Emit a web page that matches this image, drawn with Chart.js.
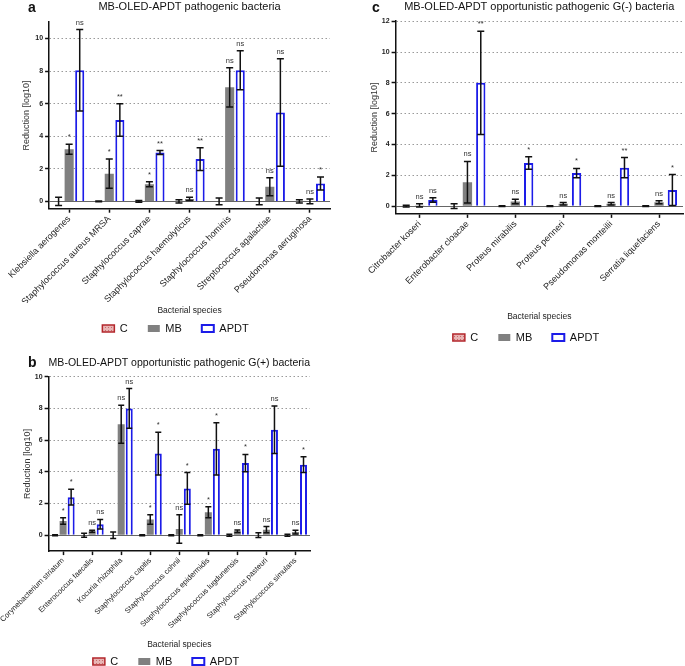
<!DOCTYPE html>
<html>
<head>
<meta charset="utf-8">
<script src="https://cdn.jsdelivr.net/npm/chart.js@4.4.1/dist/chart.umd.min.js"></script>
<style>
html, body { margin: 0; padding: 0; background: #fff; }
body { width: 685px; height: 666px; position: relative; overflow: hidden; }
.panel { position: absolute; }
</style>
</head>
<body>
<div class="panel" style="left:0;top:0;width:342px;height:344px"><canvas id="chartA"></canvas></div>
<div class="panel" style="left:343px;top:0;width:342px;height:353px"><canvas id="chartC"></canvas></div>
<div class="panel" style="left:0;top:354px;width:342px;height:323px"><canvas id="chartB"></canvas></div>
<script>
// panel a - pathogenic bacteria
var aLabels = ['Klebsiella aerogenes', 'Staphylococcus aureus MRSA', 'Staphylococcus caprae', 'Staphylococcus haemolyticus', 'Staphylococcus hominis', 'Streptococcus agalactiae', 'Pseudomonas aeruginosa'];
var aC = [0, 0, 0, 0, 0, 0, 0];
var aCErr = [0.25, 0.03, 0.05, 0.1, 0.2, 0.2, 0.1];
var aMB = [3.2, 1.7, 1.05, 0.15, 7.0, 0.9, 0.0];
var aMBErr = [0.3, 0.9, 0.15, 0.1, 1.2, 0.55, 0.15];
var aAPDT = [8.05, 5.0, 3.0, 2.6, 8.05, 5.45, 1.1];
var aAPDTErr = [2.5, 1.0, 0.12, 0.7, 1.2, 3.3, 0.4];
var aMBSig = ['*', '*', '*', 'ns', 'ns', 'ns', 'ns'];
var aAPDTSig = ['ns', '**', '**', '**', 'ns', 'ns', '*'];
var aYTicks = [0, 2, 4, 6, 8, 10];

// panel b - opportunistic G(+)
var bLabels = ['Corynebacterium striatum', 'Enterococcus faecalis', 'Kocuria rhizophila', 'Staphylococcus capitis', 'Staphylococcus cohnii', 'Staphylococcus epidermidis', 'Staphylococcus lugdunensis', 'Staphylococcus pasteuri', 'Staphylococcus simulans'];
var bC = [0, 0, 0, 0, 0, 0, 0, 0, 0];
var bCErr = [0.03, 0.12, 0.2, 0.03, 0.03, 0.03, 0.06, 0.15, 0.06];
var bMB = [0.9, 0.25, 7.0, 1.0, 0.4, 1.45, 0.25, 0.35, 0.2];
var bMBErr = [0.2, 0.06, 1.2, 0.3, 0.9, 0.35, 0.08, 0.2, 0.12];
var bAPDT = [2.4, 0.7, 8.0, 5.15, 2.95, 5.45, 4.55, 6.65, 4.45];
var bAPDTErr = [0.5, 0.3, 1.25, 1.35, 1.0, 1.65, 0.55, 1.5, 0.5];
var bMBSig = ['*', 'ns', 'ns', '*', 'ns', '*', 'ns', 'ns', 'ns'];
var bAPDTSig = ['*', 'ns', 'ns', '*', '*', '*', '*', 'ns', '*'];
var bYTicks = [0, 2, 4, 6, 8, 10];

// panel c - opportunistic G(-)
var cLabels = ['Citrobacter koseri', 'Enterobacter cloacae', 'Proteus mirabilis', 'Proteus penneri', 'Pseudomonas monteilii', 'Serratia liquefaciens'];
var cC = [0, 0, 0, 0, 0, 0];
var cCErr = [0.06, 0.15, 0.03, 0.03, 0.02, 0.02];
var cMB = [0.05, 1.55, 0.3, 0.15, 0.15, 0.25];
var cMBErr = [0.1, 1.35, 0.15, 0.08, 0.08, 0.1];
var cAPDT = [0.4, 8.0, 2.8, 2.15, 2.5, 1.05];
var cAPDTErr = [0.15, 3.35, 0.4, 0.3, 0.65, 1.0];
var cMBSig = ['ns', 'ns', 'ns', 'ns', 'ns', 'ns'];
var cAPDTSig = ['ns', '**', '*', '*', '**', '*'];
var cYTicks = [0, 2, 4, 6, 8, 10, 12];

var FONT = "'Liberation Sans', Arial, sans-serif";
var RED = '#b3262b';
var GRAY = '#808080';
var BLUE = '#1c1ce8';

function makePattern() {
    var c = document.createElement('canvas');
    c.width = 3; c.height = 3;
    var g = c.getContext('2d');
    g.fillStyle = '#e8b4b4';
    g.fillRect(0, 0, 3, 3);
    g.fillStyle = '#c86a6a';
    g.fillRect(0, 0, 1, 1);
    return g.createPattern(c, 'repeat');
}
var cPattern = makePattern();

// error bars, significance marks and the panel letter
var errorBarPlugin = {
    id: 'errorBars',
    afterDatasetsDraw: function (chart, args, opts) {
        var ctx = chart.ctx;
        var yScale = chart.scales.y;
        chart.data.datasets.forEach(function (ds, i) {
            var meta = chart.getDatasetMeta(i);
            meta.data.forEach(function (bar, j) {
                var v = ds.data[j], e = ds.errors[j];
                var yTop = yScale.getPixelForValue(v + e);
                var yBot = yScale.getPixelForValue(v - e);
                ctx.save();
                ctx.strokeStyle = '#111';
                ctx.lineWidth = 1.5;
                ctx.beginPath();
                ctx.moveTo(bar.x, yTop); ctx.lineTo(bar.x, yBot);
                ctx.moveTo(bar.x - opts.cap, yTop); ctx.lineTo(bar.x + opts.cap, yTop);
                ctx.moveTo(bar.x - opts.cap, yBot); ctx.lineTo(bar.x + opts.cap, yBot);
                ctx.stroke();
                if (ds.sig) {
                    ctx.fillStyle = '#333';
                    ctx.font = opts.sigSize + 'px ' + FONT;
                    ctx.textAlign = 'center';
                    ctx.textBaseline = 'alphabetic';
                    ctx.fillText(ds.sig[j], bar.x, yTop - 5);
                }
                ctx.restore();
            });
        });
    },
    afterDraw: function (chart, args, opts) {
        var ctx = chart.ctx;
        ctx.save();
        ctx.fillStyle = '#111';
        ctx.font = 'bold 14px ' + FONT;
        ctx.textAlign = 'left';
        ctx.textBaseline = 'middle';
        ctx.fillText(opts.letter, opts.lx, opts.ly);
        ctx.restore();
    }
};

function makeChart(id, o) {
    return new Chart(document.getElementById(id), {
        type: 'bar',
        data: {
            labels: o.labels,
            datasets: [
                { label: 'C', data: o.c, errors: o.cErr, backgroundColor: cPattern, borderColor: RED, borderWidth: 1.5 },
                { label: 'MB', data: o.mb, errors: o.mbErr, sig: o.mbSig, backgroundColor: GRAY, borderColor: GRAY, borderWidth: 0 },
                { label: 'APDT', data: o.apdt, errors: o.apdtErr, sig: o.apdtSig, backgroundColor: '#fff', borderColor: BLUE, borderWidth: 2 }
            ]
        },
        options: {
            responsive: true,
            maintainAspectRatio: false,
            animation: false,
            categoryPercentage: o.catPct,
            barPercentage: o.barPct,
            layout: { padding: o.padding },
            plugins: {
                title: {
                    display: true, text: o.title, fullSize: false, color: '#111',
                    font: { family: FONT, size: 11, weight: 'normal' }, padding: { top: 0, bottom: o.titlePad }
                },
                legend: {
                    position: 'bottom',
                    labels: {
                        boxWidth: 12, boxHeight: 7, padding: 20, color: '#111',
                        font: { family: FONT, size: 11 }
                    }
                },
                tooltip: { enabled: false },
                errorBars: { cap: o.cap, sigSize: 7.5, letter: o.letter, lx: o.lx, ly: o.ly }
            },
            scales: {
                x: {
                    afterFit: function (scale) {
                        // first rotated label may hang left of the plot, like the original
                        if (o.maxPadLeft !== undefined) scale.paddingLeft = Math.min(scale.paddingLeft, o.maxPadLeft);
                    },
                    grid: { display: true, drawOnChartArea: false, offset: false, tickLength: 4, tickColor: '#111', tickWidth: 1.5 },
                    border: { color: '#111', width: 1.5 },
                    ticks: { autoSkip: false, maxRotation: 45, minRotation: 45, padding: 1, color: '#222', font: { family: FONT, size: o.xFont } },
                    title: { display: true, text: 'Bacterial species', color: '#222', font: { family: FONT, size: 8.5 }, padding: o.xTitlePad }
                },
                y: {
                    min: o.yMin, max: o.yMax,
                    afterBuildTicks: function (scale) {
                        scale.ticks = o.yTicks.map(function (v) { return { value: v }; });
                    },
                    grid: {
                        color: function (ctx) { return ctx.tick && ctx.tick.value === 0 ? '#666' : '#9a9a9a'; },
                        lineWidth: 1,
                        tickLength: 4, tickColor: '#111', tickWidth: 1.5
                    },
                    border: {
                        color: '#111', width: 1.5,
                        dash: function (ctx) { return ctx.tick && ctx.tick.value !== 0 ? [1.5, 2.5] : []; }
                    },
                    ticks: { color: '#222', padding: 2, font: { family: FONT, size: 7, weight: 'bold' } },
                    title: { display: true, text: 'Reduction [log10]', color: '#333', font: { family: FONT, size: 9 }, padding: { top: 0, bottom: o.yTitlePad } }
                }
            }
        },
        plugins: [errorBarPlugin]
    });
}

makeChart('chartA', {
    labels: aLabels, c: aC, cErr: aCErr, mb: aMB, mbErr: aMBErr, apdt: aAPDT, apdtErr: aAPDTErr,
    mbSig: aMBSig, apdtSig: aAPDTSig, yTicks: aYTicks, yMin: -0.45, yMax: 11,
    title: 'MB-OLED-APDT pathogenic bacteria', letter: 'a', lx: 28, ly: 8,
    catPct: 0.79, barPct: 0.86, cap: 3.5, xFont: 9,
    titlePad: 9, yTitlePad: 1.5, xTitlePad: { top: -3, bottom: -12.5 },
    padding: { left: 21, right: 12, top: 0, bottom: 0 }
});

makeChart('chartB', {
    labels: bLabels, c: bC, cErr: bCErr, mb: bMB, mbErr: bMBErr, apdt: bAPDT, apdtErr: bAPDTErr,
    mbSig: bMBSig, apdtSig: bAPDTSig, yTicks: bYTicks, yMin: -1, yMax: 10,
    title: 'MB-OLED-APDT opportunistic pathogenic G(+) bacteria', letter: 'b', lx: 28, ly: 9,
    catPct: 0.83, barPct: 0.87, cap: 3, xFont: 7.6, maxPadLeft: 30,
    titlePad: 7, yTitlePad: 0, xTitlePad: { top: 8, bottom: -13.5 },
    padding: { left: 22, right: 32, top: 2.5, bottom: 0 }
});

makeChart('chartC', {
    labels: cLabels, c: cC, cErr: cCErr, mb: cMB, mbErr: cMBErr, apdt: cAPDT, apdtErr: cAPDTErr,
    mbSig: cMBSig, apdtSig: cAPDTSig, yTicks: cYTicks, yMin: -0.5, yMax: 12,
    title: 'MB-OLED-APDT opportunistic pathogenic G(-) bacteria', letter: 'c', lx: 29, ly: 8,
    catPct: 0.835, barPct: 0.7, cap: 3.5, xFont: 9,
    titlePad: 8, yTitlePad: 0, xTitlePad: { top: 18, bottom: -9.5 },
    padding: { left: 26, right: 2, top: 0, bottom: 0 }
});
</script>
</body>
</html>
